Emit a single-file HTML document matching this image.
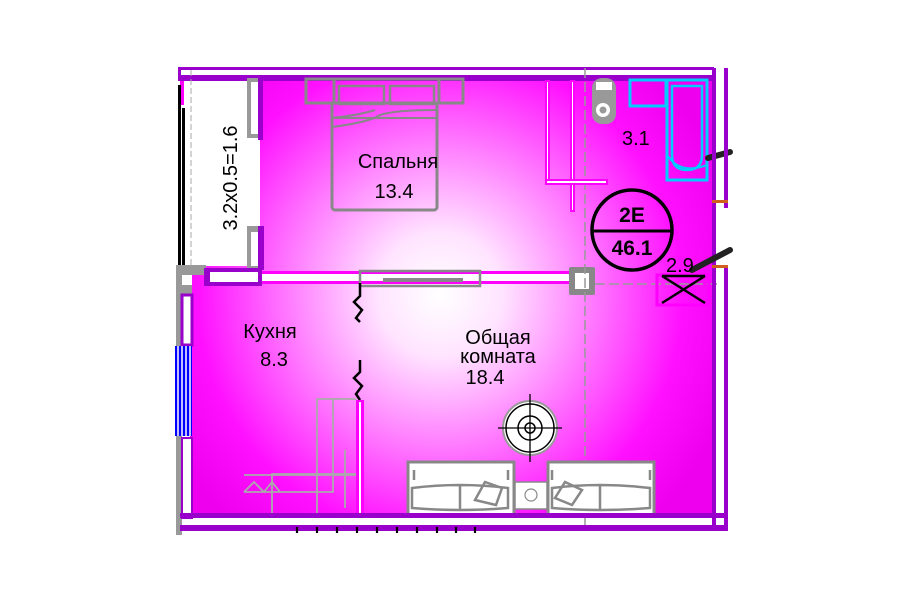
<!DOCTYPE html>
<html><head><meta charset="utf-8"><style>
html,body{margin:0;padding:0;background:#fff;width:900px;height:600px;overflow:hidden}
svg{display:block}
text{font-family:"Liberation Sans",sans-serif}
</style></head><body>
<svg width="900" height="600" viewBox="0 0 900 600" xmlns="http://www.w3.org/2000/svg">
<defs>
<radialGradient id="g" cx="440" cy="295" r="310" gradientUnits="userSpaceOnUse">
<stop offset="0" stop-color="#ffffff"/>
<stop offset="0.2" stop-color="#ffe4ff"/>
<stop offset="0.5" stop-color="#ff77ff"/>
<stop offset="0.78" stop-color="#ff11ff"/>
<stop offset="1" stop-color="#ee00ee"/>
</radialGradient>
</defs>
<rect x="190" y="78" width="524" height="440" fill="url(#g)"/>
<rect x="184" y="80" width="76" height="186" fill="#fff"/>
<rect x="178" y="67" width="536" height="3" fill="#9900cc"/>
<rect x="178" y="75" width="536" height="6" fill="#9900cc"/>
<rect x="178" y="67" width="3" height="14" fill="#9900cc"/>
<line x1="191" y1="70" x2="191" y2="265" stroke="#aaa" stroke-dasharray="6,3"/>
<rect x="180" y="81" width="4" height="24" fill="#ff00ff"/>
<rect x="178" y="85" width="3" height="185" fill="#000"/>
<rect x="182" y="108" width="3" height="162" fill="#000"/>
<rect x="247" y="78" width="14" height="60" fill="#999"/>
<rect x="251" y="82" width="7" height="52" fill="#fff"/>
<rect x="258" y="78" width="5" height="62" fill="#9900cc"/>
<rect x="247" y="226" width="14" height="44" fill="#999"/>
<rect x="251" y="232" width="7" height="34" fill="#fff"/>
<rect x="258" y="226" width="6" height="44" fill="#9900cc"/>
<text transform="translate(237,178) rotate(-90)" font-size="20" text-anchor="middle">3.2x0.5=1.6</text>
<rect x="176" y="265" width="30" height="10" fill="#999"/>
<rect x="176" y="265" width="6" height="270" fill="#999"/>
<rect x="182" y="275" width="10" height="20" fill="#fff"/>
<rect x="182" y="285" width="10" height="10" fill="#999"/>
<rect x="182" y="295" width="10" height="50" fill="#fff" stroke="#9900cc" stroke-width="3"/>
<rect x="175" y="346" width="17" height="90" fill="#00f"/>
<g stroke="#fff" stroke-width="1.5"><line x1="178" y1="346" x2="178" y2="436"/><line x1="182" y1="346" x2="182" y2="436"/><line x1="186" y1="346" x2="186" y2="436"/><line x1="190" y1="346" x2="190" y2="436"/></g>
<rect x="182" y="438" width="10" height="80" fill="#fff" stroke="#9900cc" stroke-width="2"/>
<rect x="204" y="268" width="58" height="18" fill="#9900cc"/>
<rect x="210" y="272" width="48" height="10" fill="#fff"/>
<rect x="262" y="271" width="310" height="3" fill="#ff00ff"/>
<rect x="262" y="281" width="310" height="3" fill="#ff00ff"/>
<rect x="262" y="274" width="310" height="7" fill="#fff"/>
<rect x="360" y="271" width="120" height="15" fill="none" stroke="#888" stroke-width="2.5"/>
<rect x="383" y="278" width="80" height="4" fill="#888"/>
<rect x="569" y="267" width="26" height="28" fill="#888" rx="2"/>
<rect x="575" y="273" width="14" height="16" fill="#fff"/>
<line x1="585" y1="68" x2="585" y2="530" stroke="#999" stroke-width="1.5" stroke-dasharray="10,4"/>
<line x1="595" y1="284" x2="720" y2="284" stroke="#999" stroke-width="1.5" stroke-dasharray="10,4"/>
<rect x="545" y="80" width="5" height="105" fill="#ff00ff"/><rect x="547" y="82" width="1" height="100" fill="#fff"/>
<rect x="570" y="80" width="5" height="132" fill="#ff00ff"/><rect x="572" y="82" width="1" height="128" fill="#fff"/>
<rect x="545" y="179" width="63" height="6" fill="#ff00ff"/><rect x="547" y="181" width="59" height="2" fill="#fff"/>
<rect x="592" y="78" width="24" height="46" rx="10" fill="#999"/>
<rect x="596" y="82" width="16" height="8" fill="#fff"/>
<circle cx="603" cy="110" r="7" fill="#fff"/><circle cx="603" cy="110" r="3.5" fill="#999"/>
<rect x="630" y="80" width="36" height="26" fill="none" stroke="#00ccff" stroke-width="3"/>
<rect x="667" y="80" width="40" height="100" fill="none" stroke="#00ccff" stroke-width="3"/>
<path d="M672 86 L702 86 L702 155 Q702 170 687 170 Q672 170 672 155 Z" fill="none" stroke="#00ccff" stroke-width="2.5"/>
<path d="M667 155 Q680 175 707 165" fill="none" stroke="#00ccff" stroke-width="2"/>
<text x="622" y="145" font-size="20">3.1</text>
<line x1="708" y1="158" x2="730" y2="152" stroke="#222" stroke-width="6" stroke-linecap="round"/>
<rect x="712" y="68" width="4" height="460" fill="#9900cc"/>
<rect x="724" y="68" width="4" height="140" fill="#9900cc"/>
<rect x="724" y="268" width="4" height="262" fill="#9900cc"/>
<rect x="712" y="200" width="16" height="3" fill="#d06020"/>
<rect x="712" y="265" width="16" height="3" fill="#d06020"/>
<rect x="657" y="275" width="52" height="30" fill="none" stroke="#ff00ff" stroke-width="3"/>
<path d="M662 276 L705 303 M705 276 L662 303 M662 276 L705 276" stroke="#000" stroke-width="2.5"/>
<line x1="692" y1="270" x2="730" y2="250" stroke="#222" stroke-width="6" stroke-linecap="round"/>
<text x="666" y="272" font-size="20">2.9</text>
<circle cx="632" cy="230" r="40" fill="none" stroke="#000" stroke-width="3.5"/>
<line x1="592" y1="231" x2="672" y2="231" stroke="#000" stroke-width="3"/>
<text x="632" y="222" font-size="21" font-weight="bold" text-anchor="middle">2E</text>
<text x="632" y="255" font-size="21" font-weight="bold" text-anchor="middle">46.1</text>
<rect x="306" y="79" width="28" height="24" fill="none" stroke="#888" stroke-width="3"/>
<rect x="439" y="79" width="24" height="24" fill="none" stroke="#888" stroke-width="3"/>
<rect x="334" y="79" width="105" height="24" fill="none" stroke="#888" stroke-width="3"/>
<rect x="339" y="86" width="45" height="18" fill="none" stroke="#888" stroke-width="2.5"/>
<rect x="390" y="86" width="44" height="18" fill="none" stroke="#888" stroke-width="2.5"/>
<rect x="332" y="103" width="105" height="107" rx="3" fill="none" stroke="#888" stroke-width="3"/>
<path d="M332 118 Q360 115 375 110 M332 127 Q370 122 380 115 Q395 110 437 110 M332 118 L437 118" fill="none" stroke="#888" stroke-width="2"/>
<text x="398" y="168" font-size="20" text-anchor="middle">Спальня</text>
<text x="394" y="198" font-size="20" text-anchor="middle">13.4</text>
<text x="270" y="338" font-size="20" text-anchor="middle">Кухня</text>
<text x="274" y="366" font-size="20" text-anchor="middle">8.3</text>
<path d="M360 283 L360 296 L354 302 L362 310 L356 318 L360 322" fill="none" stroke="#000" stroke-width="2.5"/>
<path d="M360 360 L360 372 L354 378 L362 386 L356 394 L360 400" fill="none" stroke="#000" stroke-width="2.5"/>
<rect x="356" y="400" width="8" height="115" fill="#ff00ff"/><rect x="359" y="402" width="2" height="111" fill="#fff"/>
<g fill="none" stroke="#aaa" stroke-width="1.8">
<path d="M317 515 L317 399 L356 399 M333 399 L333 492 L244 492 M272 515 L272 474 L356 474 M244 475 L356 475 M345 450 L345 508"/>
<path d="M244 492 L254 482 L264 492 L272 482 L280 492"/>
</g>
<text x="498" y="344" font-size="20" text-anchor="middle">Общая</text>
<text x="498" y="363" font-size="20" text-anchor="middle">комната</text>
<text x="485" y="384" font-size="20" text-anchor="middle">18.4</text>
<circle cx="530" cy="428" r="27" fill="#fff" stroke="#999" stroke-width="2"/>
<circle cx="530" cy="428" r="24" fill="none" stroke="#000" stroke-width="1.5"/>
<circle cx="530" cy="428" r="12" fill="none" stroke="#000" stroke-width="1.5"/>
<circle cx="530" cy="428" r="5" fill="none" stroke="#000" stroke-width="1.5"/>
<path d="M498 428 L562 428 M530 394 L530 462" stroke="#000" stroke-width="1.3"/>
<g fill="#fff" stroke="#888" stroke-width="3">
<rect x="408" y="462" width="106" height="53"/>
<rect x="548" y="462" width="106" height="53"/>
<rect x="515" y="482" width="32" height="27" stroke-width="1.5"/>
</g>
<g fill="none" stroke="#888" stroke-width="2.5">
<path d="M414 480 L414 470 M508 480 L508 470 M412 488 Q460 482 508 488 L508 508 Q460 512 412 508 Z M460 484 L460 510"/>
<path d="M552 488 Q600 482 650 488 L650 508 Q600 512 552 508 Z M600 484 L600 510 M552 480 L552 470 M650 480 L650 470"/>
<path d="M475 500 L485 482 L502 488 L496 505 Z M555 498 L565 482 L582 490 L572 505 Z"/>
</g>
<circle cx="531" cy="495" r="6" fill="none" stroke="#888" stroke-width="1.2"/>
<rect x="180" y="513" width="548" height="5" fill="#9900cc"/>
<rect x="180" y="525" width="548" height="6" fill="#9900cc"/>
<rect x="725" y="513" width="3" height="17" fill="#9900cc"/>
<g stroke="#000" stroke-width="2.2">
<line x1="297" y1="527" x2="297" y2="533"/><line x1="317" y1="527" x2="317" y2="533"/><line x1="337" y1="527" x2="337" y2="533"/><line x1="357" y1="527" x2="357" y2="533"/><line x1="377" y1="527" x2="377" y2="533"/><line x1="397" y1="527" x2="397" y2="533"/><line x1="417" y1="527" x2="417" y2="533"/><line x1="437" y1="527" x2="437" y2="533"/><line x1="456" y1="527" x2="456" y2="533"/><line x1="475" y1="527" x2="475" y2="533"/>
</g>
</svg>
</body></html>
